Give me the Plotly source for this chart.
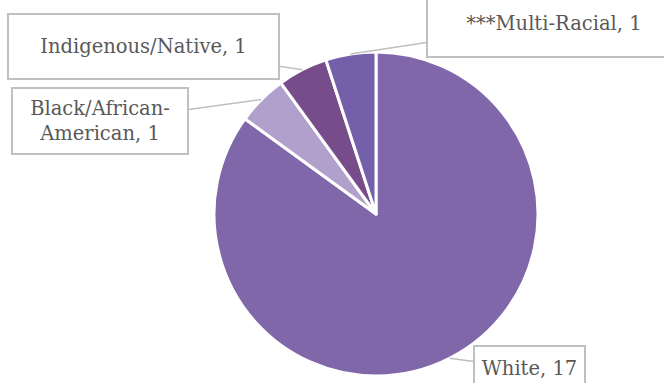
import math
import plotly.graph_objects as go

# Survey respondents by race/ethnicity
categories = ["White", "Black/African-<br>American", "Indigenous/Native", "***Multi-Racial"]
counts = [17, 1, 1, 1]
colors = ["#8067AA", "#B1A0CB", "#774C8A", "#745FAB"]

W, H = 664, 383
# pie placement (pixels)
cx, cy, r = 376, 214, 162

fig = go.Figure(go.Pie(
    labels=categories,
    values=counts,
    sort=False,
    direction="clockwise",
    rotation=0,
    marker=dict(colors=colors, line=dict(color="white", width=3)),
    textinfo="none",
    hoverinfo="label+value",
    domain=dict(x=[(cx - r) / W, (cx + r) / W], y=[(H - cy - r) / H, (H - cy + r) / H]),
    showlegend=False,
))

# callout label offsets (text-box centre relative to slice edge, px) and box sizes
offsets = [(80, 10), (-161, 22), (-159, -23), (203, -31)]
boxes = [(107, 40), (172, 62), (267, 61), (250, 64)]

total = sum(counts)
cum = 0
for lab, val, (ax, ay), (bw, bh) in zip(categories, counts, offsets, boxes):
    mid = (cum + val / 2) / total * 2 * math.pi
    cum += val
    px = cx + r * math.sin(mid)
    py = cy - r * math.cos(mid)
    fig.add_annotation(
        x=px / W, y=1 - py / H, xref="paper", yref="paper",
        text=f"{lab}, {val}",
        showarrow=True, arrowhead=0, arrowwidth=1.5, arrowcolor="#BFBFBF",
        ax=ax, ay=ay,
        width=bw, height=bh, align="center", valign="middle",
        bordercolor="#C0C0C0", borderwidth=2, borderpad=1,
        bgcolor="white",
        font=dict(family="DejaVu Serif", size=19.5, color="#595959"),
    )

fig.update_layout(
    width=W, height=H,
    margin=dict(l=0, r=0, t=0, b=0),
    paper_bgcolor="white",
    plot_bgcolor="white",
)

fig.write_html("out.html")
